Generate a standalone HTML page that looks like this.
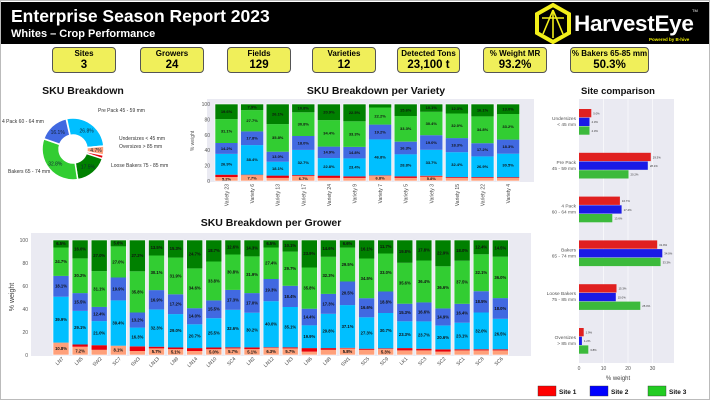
<!DOCTYPE html>
<html><head><meta charset="utf-8"><style>
body{margin:0;width:710px;height:400px;overflow:hidden;background:#fff;font-family:"Liberation Sans",sans-serif}
#wrap{position:absolute;left:0;top:0;width:708px;height:398px;border:1px solid #bbb}
#hdr{position:absolute;left:0;top:1px;width:708px;height:42px;background:#000}
.t1{position:absolute;left:10px;top:4px;color:#fff;font-weight:bold;font-size:17.5px;white-space:nowrap}
.t2{position:absolute;left:10px;top:26px;color:#fff;font-weight:bold;font-size:11px;white-space:nowrap}
.he{position:absolute;left:573px;top:9px;color:#fff;font-size:22.5px;font-weight:bold;letter-spacing:-0.3px;white-space:nowrap}
.pw{position:absolute;left:648px;top:35px;color:#ee0;font-size:4.5px;font-weight:bold;white-space:nowrap}
.tm{position:absolute;left:691px;top:6px;color:#fff;font-size:4px}
.kpi{position:absolute;top:46px;height:26px;background:#f0ef5a;border:1px solid #555;border-radius:4px;text-align:center;font-weight:bold;box-sizing:border-box;white-space:nowrap;overflow:hidden}
.kpi .a{font-size:8px;line-height:10px;margin-top:1px}
.kpi .b{font-size:11.5px;line-height:13px}
svg{position:absolute;left:0;top:0}
</style></head><body><div id="wrap">
<div id="hdr">
<div class="t1">Enterprise Season Report 2023</div>
<div class="t2">Whites – Crop Performance</div>
<svg width="708" height="42" style="position:absolute;left:0;top:0">
<polygon points="552,3 568,12 568,31 552,40 536,31 536,12" fill="none" stroke="#f2ef1a" stroke-width="4"/>
<g stroke="#f2ef1a" stroke-width="1.6" fill="none"><line x1="552" y1="8" x2="552" y2="36"/><line x1="552" y1="8" x2="542" y2="32"/><line x1="552" y1="8" x2="562" y2="32"/><line x1="541" y1="16" x2="563" y2="16"/></g>
</svg>
<div class="he">HarvestEye</div><div class="tm">TM</div><div class="pw">Powered by B-hive</div>
</div>
<div class="kpi" style="left:51px;width:64px"><div class="a">Sites</div><div class="b">3</div></div>
<div class="kpi" style="left:139px;width:64px"><div class="a">Growers</div><div class="b">24</div></div>
<div class="kpi" style="left:226px;width:64px"><div class="a">Fields</div><div class="b">129</div></div>
<div class="kpi" style="left:311px;width:64px"><div class="a">Varieties</div><div class="b">12</div></div>
<div class="kpi" style="left:396px;width:63px"><div class="a">Detected Tons</div><div class="b">23,100 t</div></div>
<div class="kpi" style="left:482px;width:64px"><div class="a">% Weight MR</div><div class="b">93.2%</div></div>
<div class="kpi" style="left:569px;width:79px"><div class="a">% Bakers 65-85 mm</div><div class="b">50.3%</div></div>
<svg id="s" width="710" height="400"></svg>
</div>
<script>
var C=['#ffa07a','#e8000b','#00bfff','#4169e1','#32cd32','#008000'];
var o='';
function T(x,y,s,sz,opt){opt=opt||{};o+='<text x="'+x+'" y="'+y+'" font-size="'+sz+'" fill="'+(opt.f||'#222')+'" '+(opt.a?'text-anchor="'+opt.a+'" ':'')+(opt.w?'font-weight="bold" ':'')+(opt.t?'transform="'+opt.t+'" ':'')+'>'+s+'</text>';}
function R(x,y,w,h,c){o+='<rect x="'+x.toFixed(1)+'" y="'+y.toFixed(1)+'" width="'+w.toFixed(1)+'" height="'+Math.max(0,h).toFixed(1)+'" fill="'+c+'"/>';}
T(82,93,'SKU Breakdown',10.5,{a:'middle',w:1,f:'#111'});
var dv=[['Pre Pack 45 - 59 mm',26.8,C[2]],['Undersizes < 45 mm',4.7,C[0]],['Oversizes > 85 mm',1.9,C[1]],['Loose Bakers 75 - 85 mm',17.5,C[5]],['Bakers 65 - 74 mm',32.8,C[4]],['4 Pack 60 - 64 mm',16.1,C[3]]];
var cx=72,cy=148,r1=31,r0=14,a=-12;
dv.forEach(function(d,i){var a2=a+d[1]*3.6;function p(r,ang){var t=(ang-90)*Math.PI/180;return (cx+r*Math.cos(t)).toFixed(2)+','+(cy+r*Math.sin(t)).toFixed(2);}
var l=(a2-a)>180?1:0;o+='<path d="M'+p(r1,a)+' A'+r1+','+r1+' 0 '+l+' 1 '+p(r1,a2)+' L'+p(r0,a2)+' A'+r0+','+r0+' 0 '+l+' 0 '+p(r0,a)+'Z" fill="'+d[2]+'" stroke="#fff" stroke-width="1.5"/>';
var m=(a+a2)/2,t=(m-90)*Math.PI/180;if(d[1]>3)T((cx+23*Math.cos(t)).toFixed(1),(cy+23*Math.sin(t)+2).toFixed(1),d[1]+'%',5,{a:'middle',f:'#123'});a=a2;});
T(97,111,'Pre Pack 45 - 59 mm',5,{f:'#333'});T(1,122,'4 Pack 60 - 64 mm',5,{f:'#333'});
T(118,139,'Undersizes < 45 mm',5,{f:'#333'});T(118,147,'Oversizes > 85 mm',5,{f:'#333'});
T(110,166,'Loose Bakers 75 - 85 mm',5,{f:'#333'});T(7,172,'Bakers 65 - 74 mm',5,{f:'#333'});
function stack(names,data,bx,y0,h,x0,pitch,bw,fs,rot){
 data.forEach(function(d,i){var s=d.slice(0,5).reduce(function(p,c){return p+c},0);var v=d.slice();v.push(Math.max(0,100-s));
  var x=x0+i*pitch,y=y0;
  v.forEach(function(val,k){var hh=val*h/100;R(x,y-hh,bw,hh,C[k]);if(k!=1&&val>=5&&!(k==5&&val<3))T((x+bw/2).toFixed(1),(y-hh/2+fs/3).toFixed(1),val.toFixed(1)+'%',fs,{a:'middle',w:1,f:'#111'});y-=hh;});
  o+='<rect x="'+x+'" y="'+(y0-h)+'" width="'+bw+'" height="'+h+'" fill="none" stroke="#fff" stroke-width="0.6"/>';
  if(rot==90)T(x+bw/2+2,y0+3,names[i],5,{a:'end',f:'#444',t:'rotate(-90 '+(x+bw/2+2)+' '+(y0+3)+')'});
  else T(x+bw/2+3,y0+4,names[i],5,{a:'end',f:'#444',t:'rotate(-45 '+(x+bw/2+3)+' '+(y0+4)+')'});
 });
}
o+='<rect x="206" y="98" width="327" height="83" fill="#eaeaf2"/>';
T(375,93,'SKU Breakdown per Variety',10.5,{a:'middle',w:1,f:'#111'});
for(var k=0;k<=5;k++)T(209,180-k*15.4+2,k*20,5,{a:'end',f:'#555'});
T(193,140,'% weight',5,{a:'middle',f:'#555',t:'rotate(-90 193 140)'});
var vn=['Variety 23','Variety 6','Variety 13','Variety 17','Variety 24','Variety 9','Variety 7','Variety 5','Variety 3','Variety 15','Variety 22','Variety 4'];
var vd=[[5.2,3,26.9,14.2,31.1],[7.7,0.5,38.4,17.8,27.7],[4,3,18.1,13,35.8],[6.7,1,32.7,18,30.8],[4,3,22.8,14.9,34.4],[4,2,23.4,14.8,33.3],[6.8,0.5,46.8,19.2,22.2],[4,2,28.8,16.3,33.3],[5.8,1,33.7,19,30.4],[4,1,32.4,18.3,32],[4,1,26.9,17.2,34.8],[4,1,30.5,18.3,33.2]];
stack(vn,vd,0,180,77,214,25.6,23,4,90);
o+='<rect x="30" y="232" width="500" height="123" fill="#eaeaf2"/>';
T(270,225,'SKU Breakdown per Grower',10.5,{a:'middle',w:1,f:'#111'});
for(var k=0;k<=5;k++)T(27,354-k*23+2,k*20,5,{a:'end',f:'#555'});
T(13,296,'% weight',7,{a:'middle',f:'#444',t:'rotate(-90 13 296)'});
var gn=['LN7','LN5','SW2','SC7','SW3','LN13','LN9','LN14','LN10','SC4','LN2','LN12','LN3','LN6','LN8','SW1','SC5','SC9','LK1','SC3','SC2','SC1','SC8','SC6'];
var gd=[[10.8,0,39.9,18.1,24.7],[7.2,2,29.1,15.5,30.2],[4.5,4,21,12.4,31.1],[8.1,0,39.4,19.9,27],[3.5,4,16.3,13.2,35.8],[5.7,1.5,32.3,16.9,30.1],[5.1,1.5,29,17.2,31.9],[3.5,2.5,20.7,14,34.6],[5,1.5,25.5,15.5,33.8],[5.7,1,32.6,17.3,30.8],[5.1,1.5,30.2,17,31.9],[6.3,0.5,40,19.3,27.4],[5.7,1,35.1,18.4,29.7],[3,3,19.9,14.4,35.8],[4.5,1.5,29.8,17.3,32.3],[5.8,0.5,37.1,20.5,29.5],[4.5,1,27.3,16.6,34.5],[5.3,0.5,30.7,18.8,33],[4,2,23.3,15.3,35.6],[4,1.5,23.7,16.6,36.4],[3,2,20.6,14.9,36.6],[4,1,23.1,16.4,37.5],[4,1,32,18.5,32.1],[4,1,26.5,18,36]];
stack(gn,gd,0,354,115,52,19.1,16,4.2,45);
T(617,93,'Site comparison',9.5,{a:'middle',w:1,f:'#111'});
o+='<rect x="578" y="98" width="95" height="264" fill="#eaeaf2"/>';
[10,20,30].forEach(function(v){o+='<line x1="'+(578+v*2.45)+'" y1="98" x2="'+(578+v*2.45)+'" y2="362" stroke="#fff" stroke-width="0.6"/>';});
[0,10,20,30].forEach(function(v){T(578+v*2.45,369,v,5,{a:'middle',f:'#555'});});
T(617,379,'% weight',6,{a:'middle',f:'#444'});
var sc=[['Undersizes','< 45 mm',[5,4.3,4.3]],['Pre Pack','45 - 59 mm',[29.3,28.1,20.2]],['4 Pack','60 - 64 mm',[16.7,17.4,13.6]],['Bakers','65 - 74 mm',[31.9,34,33.3]],['Loose Bakers','75 - 85 mm',[15.3,15,25]],['Oversizes','> 85 mm',[1.9,1.2,3.8]]];
var sc3=['#e02020','#1a1ae6','#3cba3c'];
sc.forEach(function(g,i){var y=108+i*43.8;g[2].forEach(function(v,j){R(578,y+j*8.7,v*2.45,8.3,sc3[j]);T(580+v*2.45,y+j*8.7+5.5,v.toFixed(1)+'%',2.8,{f:'#333'});});
 T(575,y+11,g[0],4.8,{a:'end',f:'#555'});T(575,y+17,g[1],4.8,{a:'end',f:'#555'});});
[['Site 1',537,'#f00'],['Site 2',589,'#00f'],['Site 3',647,'#2c2']].forEach(function(l){R(l[1],385,18,10,l[2]);o+='<rect x="'+l[1]+'" y="385" width="18" height="10" fill="none" stroke="#333" stroke-width="0.4"/>';T(l[1]+21,393,l[0],6.5,{w:1,f:'#111'});});
document.getElementById('s').innerHTML=o;
</script></body></html>
